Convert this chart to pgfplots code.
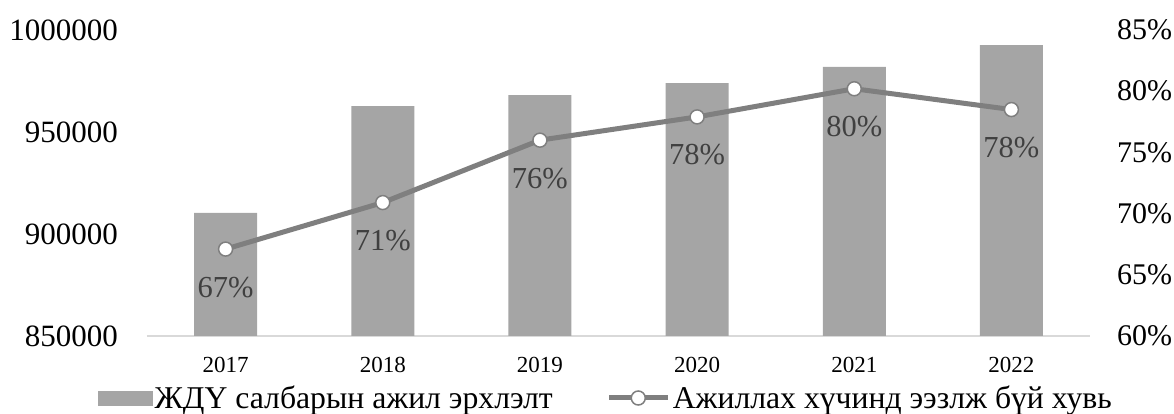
\documentclass[border=0pt]{standalone}
\usepackage{pgfplots}
\pgfplotsset{compat=1.18}
\usepackage{fontspec}
\setmainfont{Liberation Serif}
\definecolor{barc}{HTML}{A5A5A5}
\definecolor{linec}{HTML}{7F7F7F}
\definecolor{labc}{HTML}{404040}
\definecolor{axc}{HTML}{D9D9D9}
\pgfplotsset{
  mylineleg/.style={legend image code/.code={\draw[mark repeat=2,mark phase=2,##1] plot coordinates {(0pt,0pt)(29pt,0pt)(59pt,0pt)};}},
  mybarleg/.style={legend image code/.code={\fill[barc] (0pt,-7pt) rectangle (54pt,7pt);}}
}
\begin{document}
\begin{tikzpicture}
\useasboundingbox (-147pt,-78pt) rectangle (1027pt,336pt);
\begin{axis}[
 scale only axis, width=943pt, height=306pt,
 at={(0pt,0pt)}, anchor=south west,
 xmin=-0.5, xmax=5.5, ymin=850000, ymax=1000000,
 scaled y ticks=false,
 axis x line*=bottom, axis y line*=left,
 x axis line style={draw=axc, line width=1.5pt, -},
 y axis line style={draw=none},
 xtick={0,1,2,3,4,5}, xticklabels={2017,2018,2019,2020,2021,2022},
 ytick={850000,900000,950000,1000000}, yticklabels={850000,900000,950000,1000000},
 major tick length=0pt,
 xticklabel style={font=\fontsize{23}{28}\selectfont, anchor=north, inner sep=0pt, yshift=-21pt},
 yticklabel style={font=\fontsize{31}{36}\selectfont, anchor=east, inner sep=0pt, xshift=-29pt},
]
\addplot[ybar, bar width=63pt, bar shift=0pt, fill=barc, draw=none] coordinates {
 (0,910300) (1,962700) (2,968100) (3,974000) (4,981900) (5,992600)};
\end{axis}
\begin{axis}[
 scale only axis, width=943pt, height=306pt,
 at={(0pt,0pt)}, anchor=south west,
 xmin=-0.5, xmax=5.5, ymin=60, ymax=85,
 axis y line*=right, axis x line=none,
 y axis line style={draw=none},
 ytick={60,65,70,75,80,85}, yticklabels={60\%,65\%,70\%,75\%,80\%,85\%},
 major tick length=0pt,
 yticklabel style={font=\fontsize{30}{36}\selectfont, anchor=west, inner sep=0pt, xshift=27pt},
 clip=false,
 legend columns=2,
 legend cell align=left,
 legend style={at={(axis description cs:-0.052,-0.2026)}, anchor=west, draw=none, fill=none,
   inner sep=0pt, font=\fontsize{31.7}{36}\selectfont, nodes={inner sep=2pt},
   /tikz/every even column/.append style={column sep=52pt}},
]
\addlegendimage{mybarleg}
\addlegendentry{ЖДҮ салбарын ажил эрхлэлт}
\addplot[linec, line width=5pt, mark=*, mark size=7pt,
  mark options={fill=white, draw=linec, line width=1.5pt},
  nodes near coords, point meta=explicit symbolic,
  nodes near coords style={font=\fontsize{30.5}{36}\selectfont, text=labc, anchor=center, yshift=-38pt},
  mylineleg
] coordinates {
 (0,67.1) [67\%] (1,70.9) [71\%] (2,76.0) [76\%] (3,77.9) [78\%] (4,80.2) [80\%] (5,78.5) [78\%]};
\addlegendentry{Ажиллах хүчинд ээзлж бүй хувь}
\end{axis}
\end{tikzpicture}
\end{document}
